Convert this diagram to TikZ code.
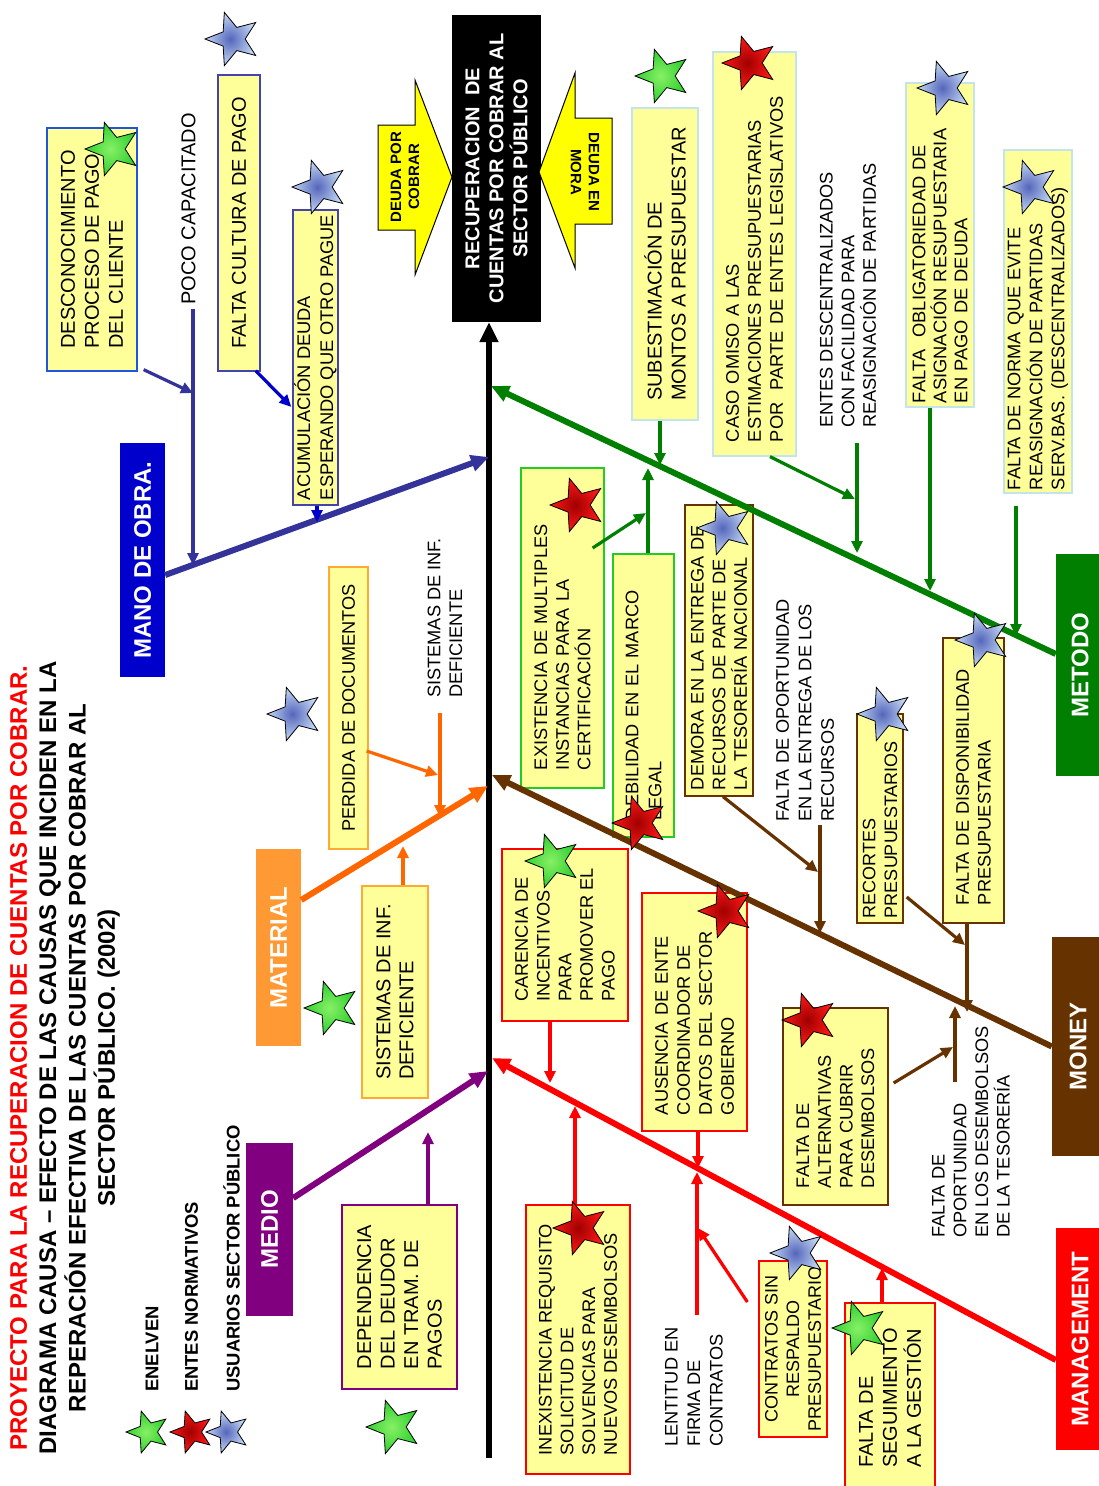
\documentclass[tikz,border=0pt]{standalone}
\usepackage{fontspec}
\setmainfont{Liberation Sans}
\usetikzlibrary{shapes.geometric,arrows.meta,calc}
\definecolor{boxfill}{HTML}{FFFF99}
\definecolor{manoblue}{HTML}{333399}
\definecolor{manobox}{HTML}{0000CC}
\definecolor{matline}{HTML}{FF6600}
\definecolor{matbox}{HTML}{FF9933}
\definecolor{matborder}{HTML}{FFAA33}
\definecolor{medpurple}{HTML}{800080}
\definecolor{manred}{HTML}{FF0000}
\definecolor{monbrown}{HTML}{663300}
\definecolor{metgreen}{HTML}{007F00}
\definecolor{lightblueb}{HTML}{C4E4EC}
\definecolor{brightgreen}{HTML}{22CC22}
\definecolor{arrowyellow}{HTML}{FFFF00}
\definecolor{descborder}{HTML}{2255DD}
\definecolor{culborder}{HTML}{4444AA}
\definecolor{darkblue}{HTML}{0000CC}
\definecolor{sgi}{HTML}{88F066}
\definecolor{sgo}{HTML}{30D030}
\definecolor{sri}{HTML}{A00000}
\definecolor{sro}{HTML}{FF1818}
\definecolor{sbi}{HTML}{5566BB}
\definecolor{sbo}{HTML}{C4D8F4}
\newcommand\myfs[2]{\fontsize{#1}{#2}\selectfont}
\tikzset{
  box/.style={rotate=90, draw=#1, fill=boxfill, line width=1.3pt, inner sep=3pt, align=left, font=\myfs{18.2}{21.7}},
  cat/.style={rotate=90, fill=#1, text=white, font=\myfs{24}{28}\bfseries, inner sep=0pt},
  txt/.style={rotate=90, align=left, inner sep=0pt, anchor=west, font=\myfs{18.2}{21.7}},
  bone/.style={draw=#1, line width=6pt, -{Triangle[length=18pt,width=16pt]}},
  subarr/.style={draw=#1, line width=3.2pt, -{Triangle[length=12pt,width=11pt]}},
  starbase/.style={star, star points=5, star point ratio=2.3, shape border rotate=90, draw=black, line width=0.8pt, inner sep=0pt, minimum size=56pt, shading=radial},
  gstar/.style={starbase, inner color=sgi, outer color=sgo},
  rstar/.style={starbase, inner color=sri, outer color=sro},
  bstar/.style={starbase, inner color=sbi, outer color=sbo},
}
\begin{document}
\begin{tikzpicture}[x=1pt,y=-1pt]
\useasboundingbox (0,0) rectangle (1098,1486);
\fill[white] (0,0) rectangle (1098,1486);

% title and legend
\node[rotate=90, align=center, font=\myfs{24}{29.3}\bfseries, inner sep=0pt] (title) at (65,1058)
 {\textcolor{manred}{PROYECTO PARA LA RECUPERACION DE CUENTAS POR COBRAR.}\\DIAGRAMA CAUSA – EFECTO DE LAS CAUSAS QUE INCIDEN EN LA\\REPERACIÓN EFECTIVA DE LAS CUENTAS POR COBRAR AL\\SECTOR PÚBLICO. (2002)};
\node[txt, font=\myfs{18.4}{22}\bfseries] (lg1) at (152,1392) {ENELVEN};
\node[txt, font=\myfs{18.4}{22}\bfseries] (lg2) at (191.5,1392) {ENTES NORMATIVOS};
\node[txt, font=\myfs{18.4}{22}\bfseries] (lg3) at (231.5,1392) {USUARIOS SECTOR PÚBLICO};

% effect
\node[rotate=90, fill=black, text=white, align=center, font=\myfs{20}{24}\bfseries, minimum width=307pt, minimum height=89pt, inner sep=0pt] (effect) at (496.5,168.5)
 {RECUPERACION\ \ DE\\CUENTAS POR COBRAR AL\\SECTOR PÚBLICO};
\draw[fill=arrowyellow, line width=1pt] (378,125) -- (415,125) -- (415,80) -- (452,177) -- (415,275) -- (415,230) -- (378,230) -- cycle;
\node[rotate=90, align=center, font=\myfs{15}{18}\bfseries, inner sep=0pt] (dpc) at (405,177) {DEUDA POR\\COBRAR};
\draw[fill=arrowyellow, line width=1pt] (612,118) -- (575,118) -- (575,73) -- (539,172) -- (575,268) -- (575,224) -- (612,224) -- cycle;
\node[rotate=-90, align=center, font=\myfs{15}{18}\bfseries, inner sep=0pt] (dem2) at (585,172) {DEUDA EN\\MORA};

% categories
\node[cat=manobox, minimum width=234pt, minimum height=45pt] (mano) at (142.5,560) {MANO DE OBRA.};
\node[cat=matbox, minimum width=197pt, minimum height=45pt] (mat) at (278.5,947.5) {MATERIAL};
\node[cat=medpurple, minimum width=173pt, minimum height=47pt] (medio) at (269.5,1229.5) {MEDIO};
\node[cat=manred, minimum width=222pt, minimum height=48pt] (manag) at (1080,1339) {MANAGEMENT};
\node[cat=monbrown, minimum width=219pt, minimum height=52pt] (money) at (1078,1046.5) {MONEY};
\node[cat=metgreen, minimum width=222pt, minimum height=48pt] (metodo) at (1080,665) {METODO};

% mano de obra causes
\node[box=descborder, font=\myfs{20}{24}, minimum width=243pt, minimum height=90pt] (desc) at (92,249.5) {DESCONOCIMIENTO\\PROCESO DE PAGO\\DEL CLIENTE};
\node[box=culborder, font=\myfs{20}{24}, minimum width=296pt, minimum height=42pt] (cult) at (239,223) {FALTA CULTURA DE PAGO};
\node[box=culborder, font=\myfs{18.3}{23}, minimum width=295pt, minimum height=45pt, inner sep=1pt] (acum) at (315.5,357.5) {ACUMULACIÓN DEUDA\\ESPERANDO QUE OTRO PAGUE};
\node[txt, font=\myfs{20}{24}] (poco) at (188.5,305) {POCO CAPACITADO};

% material causes
\node[box=matborder, minimum width=282pt, minimum height=39pt] (perd) at (348.5,708) {PERDIDA DE DOCUMENTOS};
\node[txt] (sisttxt) at (445,698) {SISTEMAS DE INF.\\DEFICIENTE};
\node[box=matborder, font=\myfs{20}{23}, minimum width=212pt, minimum height=66pt] (sist) at (395,992) {SISTEMAS DE INF.\\DEFICIENTE};

% medio causes
\node[box=medpurple, font=\myfs{20}{23.5}, minimum width=184pt, minimum height=115pt] (dep) at (399.5,1297) {DEPENDENCIA\\DEL DEUDOR\\EN TRAM. DE\\PAGOS};

% management causes
\node[box=manred, minimum width=172pt, minimum height=126pt] (car) at (565,935) {CARENCIA DE\\INCENTIVOS\\PARA\\PROMOVER EL\\PAGO};
\node[box=manred, minimum width=269pt, minimum height=104pt] (inex) at (578,1339.5) {INEXISTENCIA REQUISITO\\SOLICITUD DE\\SOLVENCIAS PARA\\NUEVOS DESEMBOLSOS};
\node[box=manred, font=\myfs{18.2}{22}, minimum width=238pt, minimum height=105pt, text width=206pt, inner xsep=16pt] (aus) at (694.5,1012) {AUSENCIA DE ENTE\\COORDINADOR DE\\DATOS DEL SECTOR\\GOBIERNO};
\node[txt, font=\myfs{18.2}{22.5}] (lent) at (694,1447) {LENTITUD EN\\FIRMA DE\\CONTRATOS};
\node[box=manred, align=center, font=\myfs{18}{21.7}, minimum width=176pt, minimum height=68pt] (contr) at (793,1349) {CONTRATOS SIN\\RESPALDO\\PRESUPUESTARIO};
\node[box=manred, font=\myfs{20}{24}, minimum width=190pt, minimum height=90pt] (seg) at (890,1398) {FALTA DE\\SEGUIMIENTO\\A LA GESTIÓN};

% money causes
\node[box=monbrown, minimum width=291pt, minimum height=68pt, text width=279pt, inner xsep=6pt] (dem) at (719,650.5) {DEMORA EN LA ENTREGA DE\\RECURSOS DE PARTE DE\\LA TESORERÍA NACIONAL};
\node[txt, font=\myfs{18.2}{22.5}] (op1) at (805,822) {FALTA DE OPORTUNIDAD\\EN LA ENTREGA DE LOS\\RECURSOS};
\node[box=monbrown, font=\myfs{18}{21.7}, minimum width=209pt, minimum height=46pt, text width=199pt, inner xsep=5pt] (rec) at (880,818.5) {RECORTES\\PRESUPUESTARIOS};
\node[box=monbrown, minimum width=285pt, minimum height=61pt, text width=249pt, inner xsep=18pt] (disp) at (973.5,780.5) {FALTA DE DISPONIBILIDAD\\PRESUPUESTARIA};
\node[box=monbrown, minimum width=197pt, minimum height=105pt, text width=163pt, inner xsep=17pt] (alt) at (835.5,1106.5) {FALTA DE\\ALTERNATIVAS\\PARA CUBRIR\\DESEMBOLSOS};
\node[txt] (op2) at (971,1238) {FALTA DE\\OPORTUNIDAD\\EN LOS DESEMBOLSOS\\DE LA TESORERÍA};

% metodo causes
\node[box=lightblueb, font=\myfs{20}{24}, minimum width=312pt, minimum height=66pt] (subest) at (665,264) {SUBESTIMACIÓN DE\\MONTOS A PRESUPUESTAR};
\node[box=lightblueb, font=\myfs{18.3}{22}, minimum width=404pt, minimum height=83pt, text width=376pt, inner xsep=14pt] (caso) at (754.5,254) {CASO OMISO A LAS\\ESTIMACIONES PRESUPUESTARIAS\\POR\ \ PARTE DE ENTES LEGISLATIVOS};
\node[txt] (entes) at (848,428) {ENTES DESCENTRALIZADOS\\CON FACILIDAD PARA\\REASIGNACIÓN DE PARTIDAS};
\node[box=lightblueb, font=\myfs{18.3}{21}, minimum width=324pt, minimum height=68pt, text width=316pt, inner xsep=4pt] (oblig) at (940,245) {FALTA\ \ OBLIGATORIEDAD DE\\ASIGNACIÓN RESUPUESTARIA\\EN PAGO DE DEUDA};
\node[box=lightblueb, font=\myfs{18.2}{22}, minimum width=343pt, minimum height=68pt, text width=337pt, inner xsep=3pt] (norma) at (1038,321.5) {FALTA DE NORMA QUE EVITE\\REASIGNACIÓN DE PARTIDAS\\SERV.BAS. (DESCENTRALIZADOS)};
\node[box=brightgreen, minimum width=320pt, minimum height=83pt, text width=284pt, inner xsep=18pt] (exis) at (562.5,628) {EXISTENCIA DE MULTIPLES\\INSTANCIAS PARA LA\\CERTIFICACIÓN};
\node[box=brightgreen, font=\myfs{18.2}{23}, minimum width=283pt, minimum height=61pt, text width=249pt, inner xsep=17pt] (debil) at (643.5,695.5) {DEBILIDAD EN EL MARCO\\LEGAL};

% spine and bones
\coordinate (spb) at (489,1458);
\coordinate (jmano) at (489,457);
\coordinate (jmat) at (488,786);
\coordinate (jmed) at (488,1071);
\coordinate (jman) at (492,1058);
\coordinate (jmon) at (492,775);
\coordinate (jmet) at (491,386);
\draw[line width=6pt, -{Triangle[length=20pt,width=18pt]}] (spb) -- (effect.west -| spb);
\draw[bone=manoblue] ($(mano.south)+(0,15)$) -- (jmano);
\draw[bone=matline] ($(mat.south)+(0,-47.5)$) -- (jmat);
\draw[bone=medpurple] ($(medio.south)+(0,-31.5)$) -- (jmed);
\draw[bone=manred] ($(manag.north)+(0,21)$) -- (jman);
\draw[bone=monbrown] (money.north) -- (jmon);
\draw[bone=metgreen] ($(metodo.north)+(0,-11)$) -- (jmet);

% mano sub arrows
\coordinate (pm) at (193,565);
\coordinate (pq) at (193,393);
\coordinate (am) at (317,522);
\draw[subarr=manoblue] ($(poco.west -| pm)+(0,4)$) -- (pm);
\draw[subarr=manoblue] ($(desc.south west)+(6,-2)$) -- (pq);
\draw[subarr=darkblue] ($(cult.south west)+(-5,-1)$) -- ($(acum.north)+(-1,49.5)$);
\draw[subarr=darkblue] (acum.west -| am) -- (am);

% material sub arrows
\coordinate (sm) at (440,817);
\coordinate (pmq) at (438,775);
\coordinate (sbm) at (403,846);
\draw[subarr=matline] ($(sisttxt.west -| sm)+(0,15)$) -- (sm);
\draw[subarr=matline] ($(perd.south)+(-2,43)$) -- (pmq);
\draw[subarr=matline] (sist.east -| sbm) -- (sbm);

% medio sub arrow
\coordinate (dm) at (428,1132);
\draw[subarr=medpurple] (dep.east -| dm) -- (dm);

% management sub arrows
\coordinate (cm) at (550,1083);
\coordinate (im) at (575,1106);
\coordinate (aum) at (698,1168);
\coordinate (lm) at (697,1172);
\coordinate (lq) at (698,1228);
\coordinate (sgm) at (882,1268);
\draw[subarr=manred] (car.west -| cm) -- (cm);
\draw[subarr=manred] (inex.east -| im) -- (im);
\draw[subarr=manred] (aus.west -| aum) -- (aum);
\draw[subarr=manred] ($(lent.east -| lm)+(0,-12)$) -- (lm);
\draw[subarr=manred] ($(contr.north)+(-11,-47)$) -- (lq);
\draw[subarr=manred] (seg.east -| sgm) -- (sgm);

% money sub arrows
\coordinate (dq) at (818,872);
\coordinate (om) at (820,933);
\coordinate (rq) at (965,945);
\coordinate (dsm) at (967,1012);
\coordinate (o2s) at (955,1082);
\coordinate (o2m) at (955,1006);
\coordinate (aq) at (953,1047);
\draw[subarr=monbrown] ($(dem.west)+(4,0)$) -- (dq);
\draw[subarr=monbrown] ($(op1.west -| om)+(0,3)$) -- (om);
\draw[subarr=monbrown] ($(rec.south)+(3,78.5)$) -- (rq);
\draw[subarr=monbrown] (disp.west -| dsm) -- (dsm);
\draw[subarr=monbrown] (o2s) -- (o2m);
\draw[subarr=monbrown] ($(alt.south)+(5,-23.5)$) -- (aq);

% metodo sub arrows
\coordinate (sbm2) at (660,465);
\coordinate (dbm) at (648,468);
\coordinate (eq) at (646,513);
\coordinate (em) at (857,553);
\coordinate (cq) at (855,499);
\coordinate (obm) at (930,591);
\coordinate (nm) at (1016,636);
\draw[subarr=metgreen] (subest.west -| sbm2) -- (sbm2);
\draw[subarr=metgreen, line width=4pt] (debil.east -| dbm) -- (dbm);
\draw[subarr=metgreen] ($(exis.south)+(-12,-80)$) -- (eq);
\draw[subarr=metgreen] ($(entes.west -| em)+(0,15)$) -- (em);
\draw[subarr=metgreen] ($(caso.west)+(15.5,0)$) -- (cq);
\draw[subarr=metgreen, line width=4.5pt] (oblig.west -| obm) -- (obm);
\draw[subarr=metgreen] ($(norma.west -| nm)+(0,12)$) -- (nm);

% stars
\node[gstar] (st1) at (113,149) {};
\node[bstar] (st2) at (233,39) {};
\node[bstar] (st3) at (320,187) {};
\node[gstar] (st4) at (663,76) {};
\node[rstar] (st5) at (750,63) {};
\node[bstar] (st6) at (945,88) {};
\node[bstar] (st7) at (1031,187) {};
\node[rstar] (st8) at (578,505) {};
\node[bstar] (st9) at (725,528) {};
\node[rstar] (st10) at (640,823) {};
\node[bstar] (st11) at (295,714) {};
\node[gstar] (st12) at (332,1008) {};
\node[gstar] (st13) at (553,861) {};
\node[rstar] (st14) at (726,911) {};
\node[bstar] (st15) at (885,714) {};
\node[bstar] (st16) at (983,640) {};
\node[rstar] (st17) at (810,1020) {};
\node[bstar] (st18) at (798,1253) {};
\node[gstar] (st19) at (860,1328) {};
\node[rstar] (st20) at (581,1228) {};
\node[gstar] (st21) at (394,1427) {};
\node[gstar, minimum size=44pt] (lst1) at (148,1432) {};
\node[rstar, minimum size=44pt] (lst2) at (192,1432) {};
\node[bstar, minimum size=44pt] (lst3) at (228,1432) {};
\end{tikzpicture}
\end{document}
